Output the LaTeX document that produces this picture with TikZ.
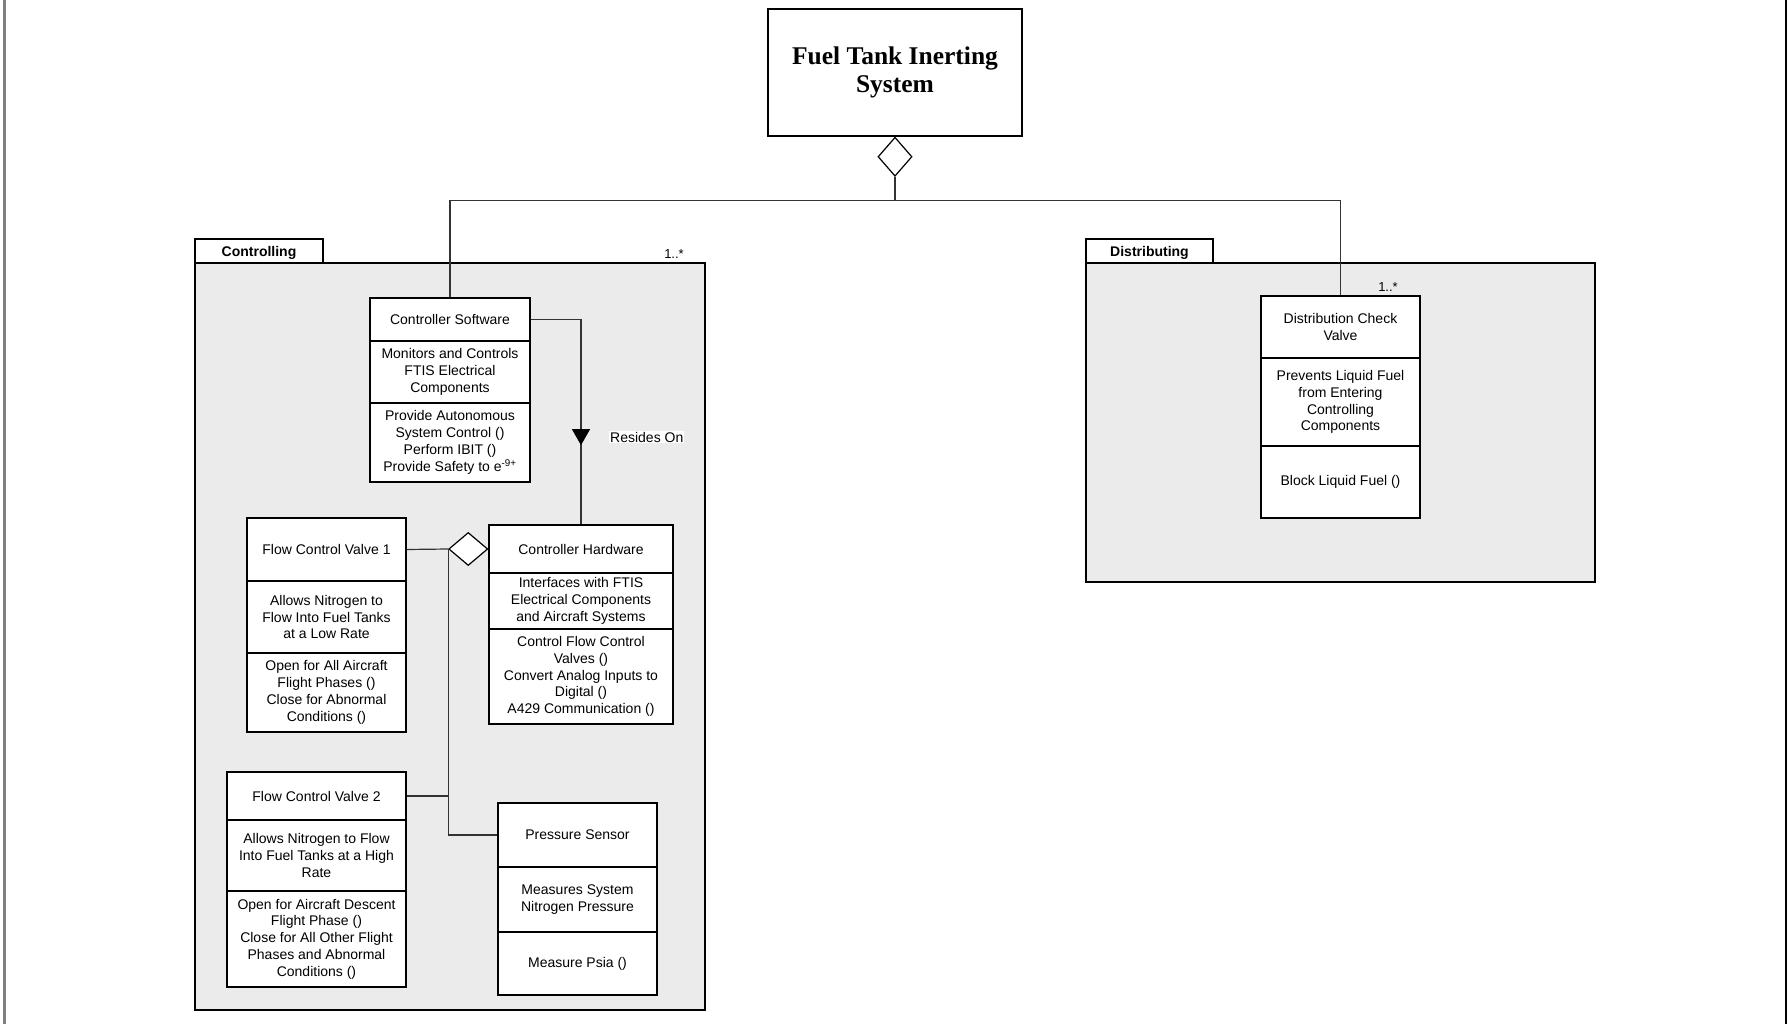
\documentclass[tikz,border=0pt]{standalone}
\usepackage{fontspec}
\setmainfont{Liberation Sans}
\newfontfamily\titlefont{Liberation Serif}
\usetikzlibrary{shapes.geometric,arrows.meta,decorations.markings}

\definecolor{pkgfill}{HTML}{EBEBEB}
\definecolor{wire}{HTML}{333333}

% one compartment of a class box: name, x1, y1, x2, y2, text
\newcommand\comp[6]{%
  \node[comp, minimum width={(#4-#2)*1pt}, minimum height={(#5-#3)*1pt}]
    (#1) at ({(#2+#4)/2},{(#3+#5)/2}) {#6};}

\begin{document}
\begin{tikzpicture}[x=1pt,y=-1pt,
  comp/.style={draw=black, fill=white, line width=1.3pt, inner sep=0pt,
    align=center, font=\fontsize{14}{16.8}\selectfont},
  pkgbody/.style={draw=black, fill=pkgfill, line width=1.3pt, inner sep=0pt},
  pkgtab/.style={draw=black, fill=white, line width=1.3pt, inner sep=0pt,
    text depth=0pt, font=\fontsize{14}{16}\selectfont\bfseries},
  wirestyle/.style={draw=wire, line width=1.2pt},
  aggr/.style={diamond, draw=black, fill=white, line width=1.2pt, inner sep=0pt},
  mult/.style={font=\fontsize{13}{15}\selectfont, inner sep=0pt},
]
\useasboundingbox (0,0) rectangle (1789,1024);

% page margins
\draw[line width=2.5pt, draw=gray] (4.5,0) -- (4.5,1024);
\draw[line width=2pt, draw=black] (1785.5,0) -- (1785.5,1024);

% packages
\node[pkgbody, minimum width=510pt, minimum height=747pt] (ctrlpkg) at (450,636.5) {};
\node[pkgtab, minimum width=128pt, minimum height=24pt] (ctrltab) at (259,251) {Controlling};
\node[pkgbody, minimum width=509pt, minimum height=319pt] (distpkg) at (1340.5,422.5) {};
\node[pkgtab, minimum width=127pt, minimum height=24pt] (disttab) at (1149.5,251) {Distributing};

% system
\node[draw=black, line width=1.3pt, minimum width=254pt, minimum height=127pt,
  align=center, font=\titlefont\bfseries\fontsize{25.5}{28}\selectfont]
  (ftis) at (895,72.5) {Fuel Tank Inerting\\System};
\node[aggr, minimum width=34pt, minimum height=39pt, anchor=north] (agg1) at (ftis.south) {};

% Controller Software
\comp{cs-t}{370}{298}{530}{341}{Controller Software}
\comp{cs-a}{370}{341}{530}{403}{Monitors and Controls\\FTIS Electrical\\Components}
\comp{cs-o}{370}{403}{530}{482}{Provide Autonomous\\System Control ()\\Perform IBIT ()\\Provide Safety to e\textsuperscript{-9+}}

% Controller Hardware
\comp{ch-t}{489}{525}{673}{573}{Controller Hardware}
\comp{ch-a}{489}{573}{673}{629}{Interfaces with FTIS\\Electrical Components\\and Aircraft Systems}
\comp{ch-o}{489}{629}{673}{724}{Control Flow Control\\Valves ()\\Convert Analog Inputs to\\Digital ()\\A429 Communication ()}

% Flow Control Valve 1
\comp{fcv1-t}{247}{518}{406}{581}{Flow Control Valve 1}
\comp{fcv1-a}{247}{581}{406}{653}{Allows Nitrogen to\\Flow Into Fuel Tanks\\at a Low Rate}
\comp{fcv1-o}{247}{653}{406}{732}{Open for All Aircraft\\Flight Phases ()\\Close for Abnormal\\Conditions ()}

% Flow Control Valve 2
\comp{fcv2-t}{227}{772}{406}{820}{Flow Control Valve 2}
\comp{fcv2-a}{227}{820}{406}{891}{Allows Nitrogen to Flow\\Into Fuel Tanks at a High\\Rate}
\comp{fcv2-o}{227}{891}{406}{987}{Open for Aircraft Descent\\Flight Phase ()\\Close for All Other Flight\\Phases and Abnormal\\Conditions ()}

% Pressure Sensor
\comp{ps-t}{498}{803}{657}{867}{Pressure Sensor}
\comp{ps-a}{498}{867}{657}{932}{Measures System\\Nitrogen Pressure}
\comp{ps-o}{498}{932}{657}{995}{Measure Psia ()}

% Distribution Check Valve
\comp{dcv-t}{1261}{296}{1420}{358}{Distribution Check\\Valve}
\comp{dcv-a}{1261}{358}{1420}{446}{Prevents Liquid Fuel\\from Entering\\Controlling\\Components}
\comp{dcv-o}{1261}{446}{1420}{518}{Block Liquid Fuel ()}

% composition of the system
\draw[wirestyle] (agg1.south) -- ++(0,24) coordinate (bus);
\draw[wirestyle] (bus) -| (cs-t.north);
\draw[wirestyle] (bus) -| (dcv-t.north);
\node[mult] (m1) at (674,254) {1..*};
\node[mult] (m2) at (1388,287) {1..*};

% software resides on hardware
\draw[wirestyle, postaction={decorate}, decoration={markings,
    mark=at position 176pt with {\arrow{Triangle[width=18pt,length=16pt,color=black]}}}]
  (cs-t.east) -| (ch-t.north);
\node[fill=white, inner sep=1pt, anchor=west, font=\fontsize{14}{16}\selectfont]
  (resides) at (609,437) {Resides On};

% hardware aggregates valves and sensor
\node[aggr, minimum width=39pt, minimum height=33pt, anchor=east] (agg2) at (ch-t.west) {};
\draw[wirestyle] (fcv1-t.east) -- (agg2.west);
\draw[wirestyle] (fcv2-t.east) -| (agg2.west);
\draw[wirestyle] (ps-t.west) -| (agg2.west);
\end{tikzpicture}
\end{document}
